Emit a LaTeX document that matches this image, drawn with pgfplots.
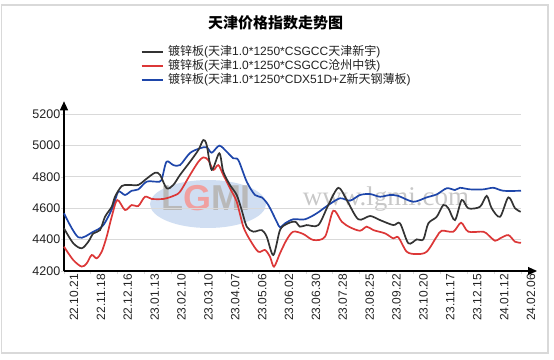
\documentclass[border=0pt]{standalone}
\usepackage{pgfplots}
\pgfplotsset{compat=1.18}
\usepackage{fontspec}
\setmainfont{Liberation Sans}
\newfontfamily\cjk{Noto Sans CJK SC}
\newfontfamily\wmserif{Liberation Serif}
\usetikzlibrary{arrows.meta}
\definecolor{cblack}{RGB}{51,51,51}
\definecolor{cred}{RGB}{220,55,55}
\definecolor{cblue}{RGB}{30,70,170}
\definecolor{gridg}{RGB}{217,217,217}
\definecolor{txt}{RGB}{34,34,34}
\definecolor{wmblue}{RGB}{208,222,242}
\definecolor{wmgray}{RGB}{185,185,185}
\definecolor{wmred}{RGB}{240,160,160}
\definecolor{wmtext}{RGB}{200,200,200}
\begin{document}
\begin{tikzpicture}[x=1pt,y=1pt]
\path[use as bounding box] (0pt,0pt) rectangle (554pt,359pt);
\draw[gridg, line width=1.5pt] (1.5pt,354pt) rectangle (548pt,6pt);
% title
\node[font=\cjk\bfseries\fontsize{15}{17}\selectfont, text=black] at (275.5pt,336.5pt) {天津价格指数走势图};
% legend
\draw[cblack, line width=2pt] (141.7pt,307pt) -- (163.3pt,307pt);
\draw[cred, line width=2pt] (141.7pt,293pt) -- (163.3pt,293pt);
\draw[cblue, line width=2pt] (141.7pt,279pt) -- (163.3pt,279pt);
\node[anchor=west, inner sep=0pt, font=\fontsize{12}{14}\selectfont, text=txt] at (168pt,307pt) {{\cjk 镀锌板}({\cjk 天津}1.0*1250*CSGCC{\cjk 天津新宇})};
\node[anchor=west, inner sep=0pt, font=\fontsize{12}{14}\selectfont, text=txt] at (168pt,293pt) {{\cjk 镀锌板}({\cjk 天津}1.0*1250*CSGCC{\cjk 沧州中铁})};
\node[anchor=west, inner sep=0pt, font=\fontsize{12}{14}\selectfont, text=txt] at (168pt,279pt) {{\cjk 镀锌板}({\cjk 天津}1.0*1250*CDX51D+Z{\cjk 新天钢薄板})};
% watermark
\fill[wmblue] (208pt,155pt) ellipse [x radius=58pt, y radius=24pt];
\node[font=\bfseries\fontsize{36}{38}\selectfont] at (206pt,161pt) {\textcolor{wmgray}{L}\textcolor{wmred}{G}\textcolor{wmgray}{MI}};
\node[font=\wmserif\fontsize{27}{29}\selectfont, text=wmtext] at (386pt,160pt) {www.lgmi.com};
\begin{axis}[
  at={(64pt,88pt)}, anchor=south west, scale only axis,
  width=457pt, height=156.7pt,
  xmin=0, xmax=68, ymin=4200, ymax=5200,
  axis lines=left,
  axis line style={line width=1.1pt, black},
  x axis line style={-{Triangle[length=9pt,width=8pt]}, shorten >=-16pt},
  y axis line style={-{Triangle[length=9pt,width=8pt]}, shorten >=-13pt},
  ytick={4200,4400,...,5200},
  xtick={0,4,...,68},
  xticklabels={22.10.21,22.11.18,22.12.16,23.01.13,23.02.10,23.03.10,23.04.07,23.05.06,23.06.02,23.06.30,23.07.28,23.08.25,23.09.22,23.10.20,23.11.17,23.12.15,24.01.12,24.02.06},
  ymajorgrids,
  major grid style={gridg, line width=1pt},
  tick align=outside, major tick length=3pt,
  tick style={gridg, line width=0.8pt},
  yticklabel style={font=\fontsize{12.5}{14}\selectfont, text=txt, inner sep=0pt, xshift=-0.5pt},
  xticklabel style={rotate=90, anchor=east, font=\fontsize{12}{14}\selectfont, text=txt, inner sep=0pt, yshift=-10pt},
  /pgf/number format/1000 sep={},
  /pgf/number format/assume math mode=true,
  clip=false,
]
\addplot[cblue, line width=1.7pt, smooth, tension=0.5] coordinates {
(0,4568) (2.13,4415) (4.36,4451) (5.85,4493) (7.29,4610) (8.08,4706) (9.08,4685) (10.07,4712) (11.06,4721) (12.3,4770) (13.8,4770) (14.5,4780) (15.25,4897) (16.26,4876) (17.26,4876) (18.75,4953) (20.24,4983) (21.23,4990) (21.98,4955) (23.11,5000) (24.21,4961) (25.19,4919) (25.94,4908) (27.19,4770) (28.42,4685) (29.42,4670) (30.4,4621) (31.65,4515) (32.14,4479) (32.89,4504) (34.12,4530) (35.86,4530) (37.6,4568) (39.33,4621) (41.07,4664) (42.56,4649) (44.05,4685) (45.54,4691) (47.02,4674) (48.5,4685) (49.75,4679) (51.98,4642) (53.97,4670) (55.46,4689) (56.95,4728) (58.18,4717) (58.93,4731) (60.42,4721) (62.4,4721) (63.88,4731) (65.37,4712) (68,4712)
};
\addplot[cred, line width=1.7pt, smooth, tension=0.5] coordinates {
(0,4355) (1.38,4270) (2.63,4228) (3.38,4249) (4.12,4302) (4.87,4281) (5.61,4323) (6.35,4419) (7.1,4546) (7.93,4653) (9.08,4589) (10.07,4621) (11.06,4615) (12.05,4674) (13.05,4660) (14.78,4660) (16.26,4679) (17.26,4706) (18.75,4813) (19.99,4897) (20.73,4925) (21.47,4908) (22.22,4845) (22.96,4876) (23.7,4813) (24.7,4728) (25.7,4642) (26.68,4483) (27.68,4398) (28.91,4323) (29.91,4334) (30.65,4291) (31.25,4228) (32.14,4313) (33.14,4400) (34.12,4451) (35.6,4436) (37.1,4398) (38.84,4419) (40.07,4585) (41.32,4515) (42.56,4479) (44.05,4457) (45.04,4483) (46.03,4461) (47.77,4440) (49,4408) (49.75,4415) (51,4323) (52.49,4308) (53.97,4323) (55.46,4419) (56.2,4457) (57.93,4451) (59.08,4508) (60.16,4451) (62.4,4451) (63.14,4429) (64.14,4393) (64.88,4408) (66.12,4429) (67.11,4387) (68,4380)
};
\addplot[cblack, line width=1.7pt, smooth, tension=0.5] coordinates {
(0,4472) (1.38,4377) (2.63,4345) (3.62,4387) (4.36,4440) (5.36,4461) (6.1,4546) (7.1,4610) (7.59,4674) (8.59,4742) (9.57,4749) (11.06,4749) (12.05,4781) (13.54,4827) (14.29,4813) (15.28,4728) (16.26,4749) (17.26,4813) (18.75,4897) (19.99,4972) (20.73,5036) (21.23,5004) (21.98,4845) (23.11,4951) (23.7,4834) (24.7,4749) (25.7,4685) (26.44,4589) (27.19,4483) (28.17,4451) (29.42,4461) (30.16,4419) (31.15,4302) (32.14,4461) (33.14,4500) (34.38,4515) (35.12,4483) (36.1,4493) (37.84,4493) (39.33,4621) (40.82,4731) (42.07,4653) (43.79,4530) (45.54,4551) (47.02,4525) (49,4493) (50,4504) (51.24,4377) (52.49,4402) (53.47,4402) (54.21,4504) (55.46,4546) (56.44,4621) (57.19,4600) (58.18,4525) (59.18,4653) (60.16,4600) (61.9,4610) (62.9,4679) (63.64,4600) (64.88,4546) (66.12,4670) (67.11,4600) (67.96,4578)
};
\end{axis}
\end{tikzpicture}
\end{document}
